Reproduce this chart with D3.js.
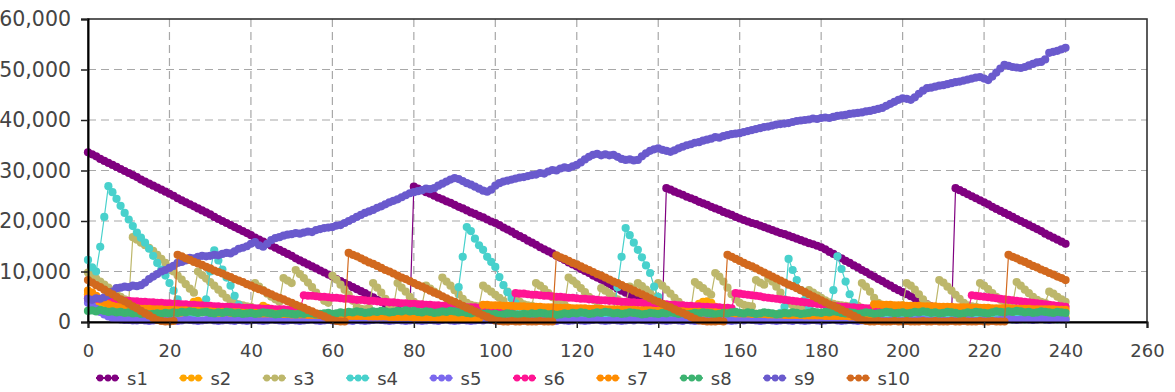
<!DOCTYPE html>
<html>
<head>
<meta charset="utf-8">
<script src="https://cdn.jsdelivr.net/npm/d3@7"></script>
<style>
  body { margin: 0; background: #fff; overflow: hidden; }
  text { font-family: "DejaVu Sans", Verdana, sans-serif; fill: #444; }
</style>
</head>
<body>
<svg id="chart" width="1175" height="392"></svg>
<script>
const names = ["s1", "s2", "s3", "s4", "s5", "s6", "s7", "s8", "s9", "s10"];
const colors = ["#800080", "#FFA500", "#BDB76B", "#48D1CC", "#7B68EE",
                "#FF1493", "#FF8C00", "#3CB371", "#6A5ACD", "#D2691E"];
const xTicks = [0, 20, 40, 60, 80, 100, 120, 140, 160, 180, 200, 220, 240, 260];
const yTicks = [0, 10000, 20000, 30000, 40000, 50000, 60000];

const s1 = [336,332,328,323,319,315,311,307,303,299,
  295,291,287,282,278,274,270,266,262,258,
  254,250,245,241,237,233,229,225,221,217,
  213,208,204,200,196,192,188,184,180,176,
  172,167,163,159,155,151,147,143,139,135,
  131,126,122,118,114,110,106,102,98,94,
  90,85,81,77,73,69,65,61,57,53,
  49,44,40,36,32,28,24,20,16,12,
  268,264,261,257,254,250,246,243,239,236,232,228,225,221,217,214,210,207,203,199,196,
  192,187,183,179,174,170,166,161,157,153,148,144,140,136,131,127,123,118,114,110,
  105,101,97,92,88,84,79,75,71,66,62,58,54,49,45,41,36,32,28,23,19,
  265,262,258,255,252,248,245,242,238,235,232,228,225,222,218,215,212,208,205,
  202,199,196,194,191,188,185,182,179,176,174,171,168,165,162,159,156,154,151,148,
  144,139,135,130,126,121,117,112,108,103,99,94,90,85,81,76,72,67,63,
  59,55,51,47,43,39,35,31,27,23,19,15,11,
  265,261,257,253,249,245,241,237,233,228,224,220,216,212,208,204,200,196,192,188,184,180,175,171,167,163,159,155];

const s2 = [55,48,40,34,28,24,20,18,16,14,13,12,11,12,10,11,9,10,11,9,
  10,12,14,18,24,32,40,42,36,26,18,14,12,11,10,9,10,11,12,10,
  11,14,22,32,28,18,13,11,10,9,10,12,28,20,14,11,10,9,10,8,
  9,10,8,9,11,10,9,8,10,11,9,8,10,9,11,10,8,9,10,9,
  8,10,11,9,10,8,9,11,10,9,8,10,12,11,9,10,8,9,10,11,
  9,10,8,11,10,9,8,10,9,11,10,12,11,9,10,8,9,10,11,9,
  10,8,9,11,10,9,10,8,9,11,10,9,8,10,11,9,10,8,9,10,
  11,9,10,8,9,10,12,16,22,30,36,40,41,38,30,22,16,12,10,9,
  10,11,9,8,10,9,11,10,8,9,10,11,9,10,8,9,10,11,9,10,
  8,9,10,11,9,10,8,9,10,12,11,9,10,8,9,10,11,9,10,8,
  9,10,11,9,8,10,9,11,10,8,9,10,11,9,10,8,9,10,11,9,
  10,8,9,11,10,9,8,10,9,11,10,9,8,10,11,9,10,8,9,10,
  9];

const s3 = [98,92,86,80,74,68,62,56,50,45,40,
  168,163,157,152,147,141,133,125,117,108,100,92,84,75,66,58,
  100,93,86,79,72,64,56,48,42,38,35,33,31,30,
  77,70,63,56,50,45,40,
  87,82,77,
  103,95,87,78,69,58,50,42,38,
  92,84,74,64,54,42,30,26,25,28,
  77,68,58,46,32,30,
  77,68,60,50,40,35,34,
  72,66,60,55,
  88,80,72,63,55,46,38,34,32,31,
  72,66,60,54,48,42,60,54,47,40,35,33,32,
  77,72,65,57,49,42,37,34,
  88,82,75,67,59,50,44,40,
  67,62,57,51,45,40,37,
  70,66,77,71,64,57,50,77,72,64,56,48,40,33,27,24,
  79,73,67,60,54,
  97,90,80,68,55,45,38,34,32,31,
  83,78,74,
  87,80,70,58,45,37,33,31,30,32,
  63,58,53,48,43,39,36,34,33,32,31,31,32,
  77,70,60,48,38,34,32,31,31,32,33,
  77,72,64,55,45,35,30,28,
  83,78,70,62,54,46,38,33,31,30,
  77,72,65,57,50,44,40,37,35,
  79,72,64,57,50,44,40,38,
  60,56,50,45,40];

const s4 = [123,108,100,149,208,269,257,244,230,216,203,190,177,167,157,145,131,117,104,92,77,62,45,32,22,18,16,18,
  30,45,100,142,122,104,88,72,52,34,24,18,15,
  14,13,15,12,14,13,11,12,14,13,12,11,13,12,10,12,13,11,12,10,
  11,13,12,10,11,12,10,11,13,12,10,11,12,10,11,13,12,10,11,12,
  13,11,10,12,11,13,12,10,11,
  18,69,129,188,180,165,152,143,129,119,109,89,73,59,47,37,28,20,15,
  12,11,13,10,12,11,13,12,10,11,12,13,11,10,12,11,13,12,10,14,
  20,69,129,186,172,157,143,128,112,97,70,50,30,18,
  14,12,11,13,12,10,11,13,12,11,10,12,11,13,12,10,11,12,13,11,10,12,11,13,12,10,14,18,
  30,125,103,83,63,44,30,20,
  15,13,14,
  20,63,130,105,80,55,38,25,16,
  13,11,12,10,11,13,12,10,11,12,13,11,10,12,11,13,12,10,11,12,
  10,11,12,10,11,13,12,10,11,12,8,7,6,7,8,6,5,6,7,5,
  6,5,7,6,5,6,7,5,6,5];

const s5 = [38,32,26,20,15,11,8,6,5,4,4,3,3,4,3,2,3,4,3,2,
  3,4,2,3,5,4,3,2,3,4,5,3,2,3,4,3,2,4,3,2,
  3,4,3,2,3,5,4,3,2,3,4,3,2,3,4,5,3,2,3,4,
  3,2,3,4,3,2,4,3,2,3,4,5,4,3,2,3,4,3,2,3,
  4,3,2,3,4,3,2,4,5,3,2,3,4,3,2,3,4,3,5,4,
  3,2,3,4,3,2,3,4,5,4,3,2,3,4,3,2,4,3,2,3,
  4,3,2,3,4,5,3,2,3,4,3,2,3,4,3,5,4,3,2,3,
  4,3,2,3,4,3,2,4,3,2,3,4,5,3,2,3,4,3,2,3,
  4,3,5,4,3,2,3,4,3,2,3,4,3,2,4,3,2,3,4,3,
  2,3,4,5,3,2,3,4,3,2,3,4,3,2,4,3,2,3,4,3,
  2,3,4,3,5,4,3,2,3,4,3,2,3,4,3,2,4,3,2,3,
  4,3,2,3,4,5,6,5,4,5,6,5,4,5,6,5,4,5,6,5,
  5];

const s6 = [47,46,46,45,45,44,44,43,43,42,42,41,41,40,40,39,39,38,38,37,
  37,36,36,35,35,34,34,33,33,32,32,31,31,30,30,30,29,29,28,28,
  28,27,27,26,26,26,25,25,25,24,24,24,23,
  53,52,52,51,50,50,49,48,48,47,46,46,45,44,44,43,42,42,41,40,
  40,39,39,38,37,37,36,36,35,35,34,34,33,33,32,32,31,31,30,30,
  29,29,29,28,28,27,27,27,26,26,26,25,
  57,56,56,55,54,54,53,52,52,51,50,50,49,48,48,47,46,46,45,45,
  44,43,43,42,42,41,40,40,39,39,38,38,37,37,36,36,35,35,34,34,
  33,33,32,32,31,31,30,30,29,29,29,28,28,27,
  57,56,55,54,53,52,51,49,48,47,46,45,44,43,42,41,40,39,38,37,
  36,35,34,33,32,31,30,30,29,29,28,28,27,27,27,26,26,26,25,25,
  25,25,24,24,24,24,23,23,23,23,22,22,22,22,22,21,21,21,
  53,52,51,50,49,48,47,46,45,44,43,42,41,40,39,38,37,36,35,34,33,32,31,30];

const s7 = [62,58,52,46,40,35,32,30,29,28,28,27,27,26,26,26,25,25,25,24,
  24,24,23,23,23,22,22,22,21,21,21,20,20,20,20,19,19,19,18,18,
  18,18,17,17,17,17,16,16,16,16,15,15,15,15,14,14,14,14,14,13,
  13,13,13,13,12,12,12,12,12,11,11,11,11,11,10,10,10,10,10,10,
  9,9,9,9,9,9,8,8,8,8,8,8,7,7,7,7,7,
  34,34,33,33,33,32,32,32,31,31,31,30,30,30,30,29,29,29,28,28,
  28,28,27,27,27,27,26,26,26,26,25,25,25,25,24,24,24,24,23,23,
  23,23,22,22,22,22,21,21,21,21,20,20,20,20,
  19,19,19,19,18,18,18,18,17,17,17,17,16,16,16,16,15,15,15,15,
  14,14,14,14,14,13,13,13,13,13,12,12,12,12,12,12,11,11,11,11,11,11,
  35,35,34,34,34,33,33,33,32,32,32,32,31,31,31,31,30,30,30,30,
  29,29,29,29,28,28,28,28,28,27,27,27,27,27,26,26,26,26,26,25,
  25,25,25,25,25,24,24,24];

const s8 = [22,23,21,24,22,20,21,19,20,18,19,17,18,16,17,15,16,17,16,18,
  17,19,18,20,19,21,20,18,19,20,18,17,19,18,20,19,17,18,16,17,
  18,16,17,19,18,17,15,16,18,17,16,15,17,16,18,17,15,16,17,18,
  16,17,19,18,20,19,21,20,18,19,21,20,22,21,19,20,22,21,23,21,
  22,20,19,21,20,18,19,21,20,22,21,19,20,18,17,19,18,16,17,15,
  16,14,15,17,16,15,14,16,15,17,16,18,17,15,16,14,15,17,16,18,
  17,19,18,16,17,19,18,20,19,17,18,16,17,19,18,17,15,16,18,17,
  16,18,17,19,18,16,17,15,16,18,17,19,18,17,15,16,18,17,19,20,
  18,17,19,18,16,17,19,18,17,15,16,18,17,19,18,16,17,18,20,19,
  18,20,19,21,20,18,17,19,18,16,17,19,18,16,17,18,20,19,17,18,
  19,17,18,20,19,21,20,18,19,17,18,20,19,18,16,17,19,18,20,19,
  18,17,19,21,20,19,21,20,22,21,19,20,18,19,21,20,19,18,20,19,
  18];

const s9 = [46,44,47,46,49,53,60,67,68,70,
  69,72,71,73,78,85,90,95,100,103,
  107,111,117,119,122,127,126,129,131,130,
  131,133,132,135,137,136,140,145,147,150,
  155,158,152,149,155,162,166,168,171,173,
  174,176,175,177,179,178,182,184,186,187,
  188,191,192,196,200,204,208,212,216,219,
  222,226,229,233,237,240,243,247,251,255,
  257,259,261,264,263,265,270,274,278,282,
  285,283,279,275,272,268,264,260,258,262,
  270,275,278,280,282,284,286,287,289,291,
  292,295,294,298,301,300,304,306,305,308,
  311,316,322,327,331,333,330,332,330,331,
  327,323,321,322,320,321,328,334,339,342,
  344,341,339,337,340,344,347,350,352,355,
  356,359,361,363,366,365,368,370,372,373,
  374,376,378,380,382,384,386,387,389,391,
  392,393,394,396,398,399,400,401,403,402,
  404,405,404,406,408,409,410,412,413,414,
  415,417,418,420,422,424,428,432,436,440,
  443,442,440,445,452,458,463,464,466,468,
  469,471,473,475,476,478,480,482,484,485,
  482,479,486,494,502,509,507,505,504,503,
  505,508,511,514,515,520,533,535,537,540,
  543];

const s10 = [83,78,73,69,64,59,55,50,45,41,36,31,27,22,17,13,8,4,
  2,1,1,2,
  133,
  130,126,123,119,116,113,109,106,102,99,96,92,89,85,82,79,75,72,68,65,
  62,58,55,51,48,45,41,38,34,31,28,24,21,17,14,11,7,4,2,
  1,1,
  137,133,130,126,122,118,115,111,107,103,100,96,92,88,85,81,77,73,70,66,
  62,58,55,51,47,43,40,36,32,28,25,21,17,13,10,
  6,3,2,1,1,2,1,1,2,1,1,1,2,1,1,1,
  132,128,125,121,117,114,110,106,103,99,95,92,88,84,80,77,73,69,66,62,
  58,55,51,47,43,40,36,32,29,25,21,18,14,10,6,3,
  2,1,1,1,2,1,
  133,129,125,121,117,113,110,106,102,98,94,90,86,82,78,74,71,67,63,59,
  55,51,47,43,39,35,32,28,24,20,16,12,8,4,
  2,1,1,2,1,1,1,2,1,1,2,1,1,1,2,1,1,2,1,1,
  1,2,1,1,2,1,1,1,2,1,1,2,1,1,1,
  133,129,126,122,119,115,111,108,104,101,97,94,90,87,83];

const series = [s1, s2, s3, s4, s5, s6, s7, s8, s9, s10];

const margin = { top: 19, right: 28, bottom: 70, left: 88 };
const W = 1175, H = 392;
const width = W - margin.left - margin.right;
const height = H - margin.top - margin.bottom;

const svg = d3.select("#chart");
const g = svg.append("g").attr("transform", `translate(${margin.left},${margin.top})`);

const x = d3.scaleLinear().domain([0, 260]).range([0, width]);
const y = d3.scaleLinear().domain([0, 60000]).range([height, 0]);

// dashed grid
g.append("g").selectAll("line")
  .data(xTicks.filter(d => d > 0 && d < 260))
  .enter().append("line")
  .attr("x1", d => x(d)).attr("x2", d => x(d))
  .attr("y1", 0).attr("y2", height)
  .attr("stroke", "#a8a8a8").attr("stroke-width", 1.2)
  .attr("stroke-dasharray", "8,5");

g.append("g").selectAll("line")
  .data(yTicks.filter(d => d > 0 && d < 60000))
  .enter().append("line")
  .attr("x1", 0).attr("x2", width)
  .attr("y1", d => y(d)).attr("y2", d => y(d))
  .attr("stroke", "#a8a8a8").attr("stroke-width", 1.2)
  .attr("stroke-dasharray", "8,5");

// frame
g.append("rect")
  .attr("x", 0).attr("y", 0).attr("width", width).attr("height", height)
  .attr("fill", "none").attr("stroke", "#333").attr("stroke-width", 1.6);

// series: thin line + dot at every point
series.forEach((vals, k) => {
  const line = d3.line()
    .x((d, i) => x(i))
    .y(d => y(d * 100));
  const sg = g.append("g");
  sg.append("path")
    .datum(vals)
    .attr("d", line)
    .attr("fill", "none")
    .attr("stroke", colors[k])
    .attr("stroke-width", 1.2);
  sg.selectAll("circle")
    .data(vals)
    .enter().append("circle")
    .attr("cx", (d, i) => x(i))
    .attr("cy", d => y(d * 100))
    .attr("r", 4.1)
    .attr("fill", colors[k]);
});

// axes
const yAxis = g.append("g")
  .call(d3.axisLeft(y).tickValues(yTicks).tickSize(7).tickPadding(10).tickFormat(d3.format(",")));
yAxis.select(".domain").attr("stroke", "#000").attr("stroke-width", 2);
yAxis.selectAll(".tick line").attr("stroke", "#222").attr("stroke-width", 1.5);
yAxis.selectAll(".tick text").attr("font-size", 20.5).attr("fill", "#444")
  .attr("font-family", "DejaVu Sans, Verdana, sans-serif");

const xAxis = g.append("g")
  .attr("transform", `translate(0,${height})`)
  .call(d3.axisBottom(x).tickValues(xTicks).tickSize(6).tickPadding(16).tickFormat(d3.format("d")));
xAxis.select(".domain").attr("stroke", "#000").attr("stroke-width", 2);
xAxis.selectAll(".tick line").attr("stroke", "#222").attr("stroke-width", 1.5);
xAxis.selectAll(".tick text").attr("font-size", 18).attr("fill", "#444")
  .attr("font-family", "DejaVu Sans, Verdana, sans-serif");

// legend
const legend = svg.append("g").attr("transform", "translate(96,378)");
names.forEach((n, k) => {
  const lg = legend.append("g").attr("transform", `translate(${k * 83.4},0)`);
  lg.append("line").attr("x1", 0).attr("x2", 23).attr("y1", 0).attr("y2", 0)
    .attr("stroke", colors[k]).attr("stroke-width", 2);
  [4, 12, 19].forEach(cx => lg.append("circle").attr("cx", cx).attr("cy", 0).attr("r", 3.4).attr("fill", colors[k]));
  lg.append("text").attr("x", 31).attr("y", 7).attr("font-size", 18).text(n);
});
</script>
</body>
</html>
